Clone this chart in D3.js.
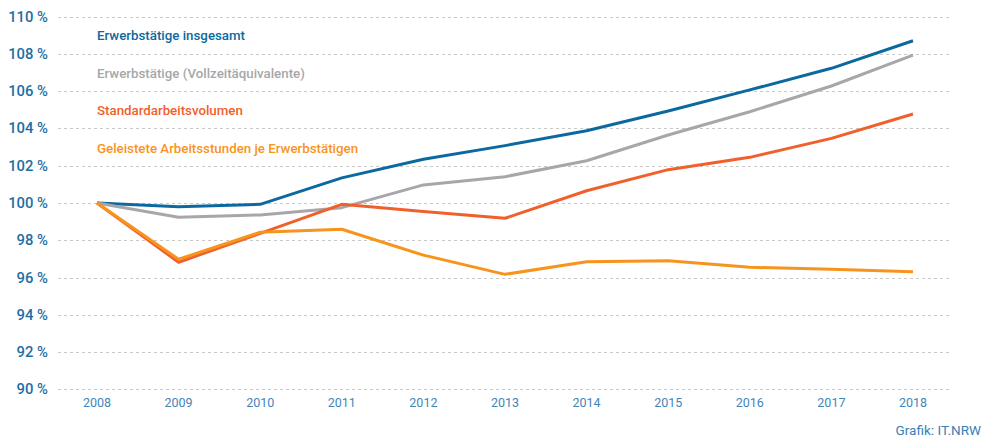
<!DOCTYPE html>
<html>
<head>
<meta charset="utf-8">
<script src="https://cdn.jsdelivr.net/npm/d3@7"></script>
<style>
  body { margin: 0; background: #fff; }
  svg { display: block; font-family: Roboto, "Open Sans", sans-serif; }
</style>
</head>
<body>
<div id="chart"></div>
<script>
// Data
const years = [2008, 2009, 2010, 2011, 2012, 2013, 2014, 2015, 2016, 2017, 2018];
const erwerbstaetige = [100, 99.8, 99.93, 101.35, 102.35, 103.08, 103.88, 104.94, 106.07, 107.23, 108.71];
const vollzeit = [100, 99.23, 99.36, 99.75, 100.97, 101.41, 102.27, 103.65, 104.9, 106.28, 107.94];
const standard = [100, 96.82, 98.37, 99.93, 99.55, 99.18, 100.66, 101.79, 102.45, 103.47, 104.78];
const stunden = [100, 96.98, 98.43, 98.59, 97.2, 96.17, 96.85, 96.9, 96.55, 96.44, 96.31];
const yTicks = [90, 92, 94, 96, 98, 100, 102, 104, 106, 108, 110];

const series = [
  { name: 'Erwerbstätige insgesamt', values: erwerbstaetige, color: '#0b69a0' },
  { name: 'Erwerbstätige (Vollzeitäquivalente)', values: vollzeit, color: '#a7a7a9' },
  { name: 'Standardarbeitsvolumen', values: standard, color: '#f1602b' },
  { name: 'Geleistete Arbeitsstunden je Erwerbstätigen', values: stunden, color: '#f7941e' }
];

// SVG setup
const width = 982;
const height = 439;
const svg = d3.select('#chart')
  .append('svg')
  .attr('width', width)
  .attr('height', height);

const x = d3.scalePoint()
  .domain(years)
  .range([97, 913]);

const y = d3.scaleLinear()
  .domain([90, 110])
  .range([389.3, 16.7]);

// Grid lines
svg.append('g')
  .selectAll('line')
  .data(yTicks)
  .join('line')
  .attr('x1', 58)
  .attr('x2', 952)
  .attr('y1', d => Math.round(y(d)) + 0.5)
  .attr('y2', d => Math.round(y(d)) + 0.5)
  .attr('stroke', '#c8c8c8')
  .attr('stroke-width', 1)
  .attr('stroke-dasharray', '3,3');

// Y axis labels
svg.append('g')
  .selectAll('text')
  .data(yTicks)
  .join('text')
  .attr('x', 48)
  .attr('y', d => y(d) + 5)
  .attr('text-anchor', 'end')
  .attr('fill', '#1b6fa6')
  .style('font-size', '14.8px')
  .style('font-weight', 500)
  .text(d => `${d} %`);

// X axis labels
svg.append('g')
  .selectAll('text')
  .data(years)
  .join('text')
  .attr('x', d => x(d))
  .attr('y', 407)
  .attr('text-anchor', 'middle')
  .attr('fill', '#3f86bb')
  .style('font-size', '12.5px')
  .text(d => d);

// Lines
const line = d3.line()
  .x((d, i) => x(years[i]))
  .y(d => y(d));

svg.append('g')
  .selectAll('path')
  .data(series)
  .join('path')
  .attr('d', d => line(d.values))
  .attr('fill', 'none')
  .attr('stroke', d => d.color)
  .attr('stroke-width', 3)
  .attr('stroke-linejoin', 'round');

// Legend
svg.append('g')
  .selectAll('text')
  .data(series)
  .join('text')
  .attr('x', 97)
  .attr('y', (d, i) => 40 + i * 37.5)
  .attr('fill', d => d.color)
  .style('font-size', '13.3px')
  .style('font-weight', 500)
  .text(d => d.name);

// Source
svg.append('text')
  .attr('x', 981)
  .attr('y', 435)
  .attr('text-anchor', 'end')
  .attr('fill', '#3a7fb5')
  .style('font-size', '13.5px')
  .text('Grafik: IT.NRW');
</script>
</body>
</html>
